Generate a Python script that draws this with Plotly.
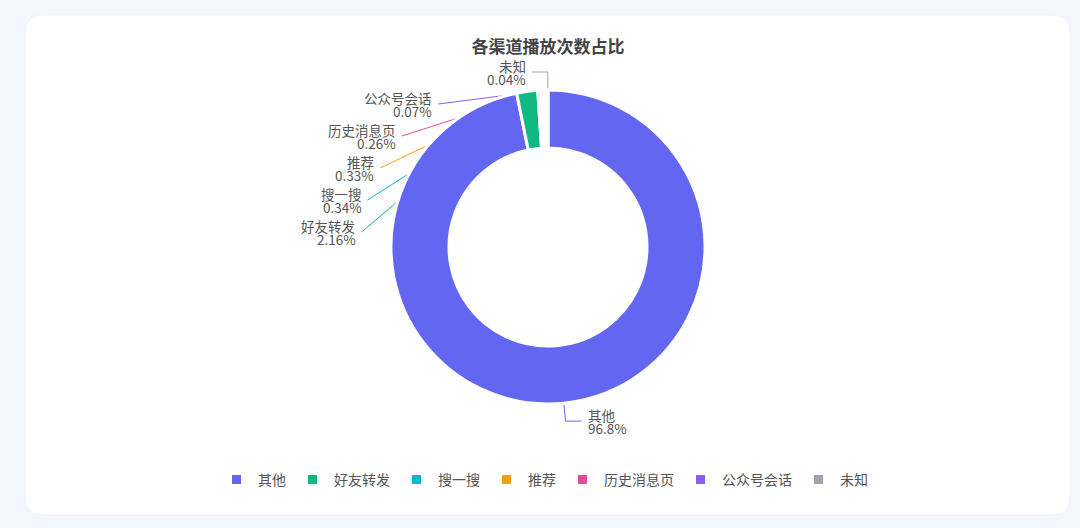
import math
import plotly.graph_objects as go

# Channel share data
channels = ["其他", "好友转发", "搜一搜", "推荐", "历史消息页", "公众号会话", "未知"]
shares = [96.8, 2.16, 0.34, 0.33, 0.26, 0.07, 0.04]
share_labels = ["96.8%", "2.16%", "0.34%", "0.33%", "0.26%", "0.07%", "0.04%"]
colors = ["#6366f1", "#10b981", "#06b6d4", "#f59e0b", "#ec4899", "#8b5cf6", "#9ca3af"]

# canvas / donut geometry in pixels
W, H = 1080, 528
CX, CY = 548, 247
R_OUT, R_IN = 157, 99
LEN1, LEN2 = 18, 16      # label line segments
R_SHIFT = 171            # radius used to place labels that had to be pushed down
TEXT_GAP = 5
LABEL_H = 32             # vertical room taken by one two-line label
LINE_OFF = 6.5           # half distance between the two text lines of a label
PAGE_BG = "#f3f6fc"


def px(x, y):
    return x / W, 1 - y / H


# label layout (radial line + horizontal line, overlapping labels pushed apart)
total = sum(shares)
items = []
acc = 0
for i, v in enumerate(shares):
    mid = (acc + v / 2) / total * 2 * math.pi
    acc += v
    sx, sy = math.sin(mid), -math.cos(mid)
    edge = (CX + R_OUT * sx, CY + R_OUT * sy)
    elbow = (CX + (R_OUT + LEN1) * sx, CY + (R_OUT + LEN1) * sy)
    side = -1 if sx < 0 else 1
    items.append(dict(i=i, side=side, edge=edge, elbow=elbow,
                      x=elbow[0] + side * LEN2, y=elbow[1], moved=False))

for side in (-1, 1):
    group = sorted([it for it in items if it["side"] == side], key=lambda it: it["y"])
    for prev, cur in zip(group, group[1:]):
        if cur["y"] < prev["y"] + LABEL_H:
            cur["y"] = prev["y"] + LABEL_H
            cur["moved"] = True
    for it in group:
        if it["moved"]:
            dy = it["y"] - CY
            dx = math.sqrt(max(R_SHIFT ** 2 - dy * dy, 0))
            it["x"] = CX + side * (dx + LEN2)

fig = go.Figure()

fig.add_trace(
    go.Pie(
        labels=channels,
        values=shares,
        textinfo="none",
        hole=R_IN / R_OUT,
        sort=False,
        direction="clockwise",
        rotation=0,
        automargin=False,
        marker=dict(colors=colors, line=dict(color="white", width=3)),
        domain=dict(x=[(CX - R_OUT) / W, (CX + R_OUT) / W],
                    y=[1 - (CY + R_OUT) / H, 1 - (CY - R_OUT) / H]),
        hoverinfo="label+percent",
    )
)

# white card with rounded corners
x0, x1, y0, y1 = 25 / W, 1070 / W, 1 - 515 / H, 1 - 15 / H
rx, ry = 18 / W, 18 / H
card = (
    f"M {x0 + rx},{y0} L {x1 - rx},{y0} Q {x1},{y0} {x1},{y0 + ry} "
    f"L {x1},{y1 - ry} Q {x1},{y1} {x1 - rx},{y1} "
    f"L {x0 + rx},{y1} Q {x0},{y1} {x0},{y1 - ry} "
    f"L {x0},{y0 + ry} Q {x0},{y0} {x0 + rx},{y0} Z"
)
shapes = [dict(type="path", path=card, xref="paper", yref="paper",
               fillcolor="white", line=dict(color="#eef1f7", width=1), layer="below")]

annotations = []
for it in items:
    i = it["i"]
    if it["moved"]:
        pts = [it["edge"], (it["x"], it["y"])]
    else:
        pts = [it["edge"], it["elbow"], (it["x"], it["y"])]
    path = "M " + " L ".join("{},{}".format(*px(*p)) for p in pts)
    shapes.append(dict(type="path", path=path, xref="paper", yref="paper",
                       line=dict(color=colors[i], width=1), layer="below"))
    for txt, off in ((channels[i], -LINE_OFF), (share_labels[i], LINE_OFF)):
        tx, ty = px(it["x"] + it["side"] * TEXT_GAP, it["y"] + off)
        annotations.append(dict(
            text=txt,
            x=tx, y=ty, xref="paper", yref="paper",
            xanchor="right" if it["side"] < 0 else "left",
            yanchor="middle", showarrow=False, borderpad=0,
            font=dict(size=13.5, color="#555"),
        ))

fig.update_layout(
    width=W,
    height=H,
    margin=dict(l=0, r=0, t=0, b=0),
    paper_bgcolor=PAGE_BG,
    font=dict(family="Noto Sans CJK SC, sans-serif", color="#555"),
    title=dict(
        text="<b>各渠道播放次数占比</b>",
        x=CX / W,
        xanchor="center",
        y=1 - 47 / H,
        yanchor="middle",
        font=dict(size=17, color="#444"),
    ),
    shapes=shapes,
    annotations=annotations,
    showlegend=True,
    legend=dict(
        orientation="h",
        x=(CX - 4) / W,
        xanchor="center",
        y=1 - 480 / H,
        yanchor="middle",
        bgcolor="rgba(0,0,0,0)",
        font=dict(size=14, color="#555"),
        itemwidth=33,
        traceorder="normal",
    ),
)

fig.write_html(
    "out.html",
    config={"displayModeBar": False},
    post_script=f"document.body.style.margin='0';document.body.style.background='{PAGE_BG}';",
)
